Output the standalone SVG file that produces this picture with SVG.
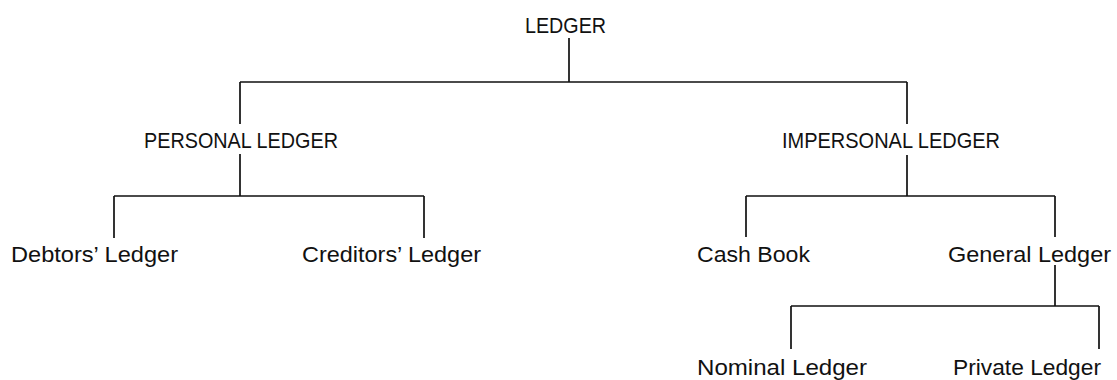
<svg xmlns="http://www.w3.org/2000/svg" width="1117" height="380" viewBox="0 0 1117 380">
<style>
text { font-family: "Liberation Sans", Arial, sans-serif; font-size: 22px; fill: #111; }
.c { stroke: #111; stroke-width: 1.7; fill: none; }
</style>
<rect width="1117" height="380" fill="#fff"/>
<g id="connectors">
<path class="c" d="M569,38 V82 M240,82 H907 M240,82 V124 M907,82 V124"/>
<path class="c" d="M240,154 V196 M114,196 H424 M114,196 V238 M424,196 V238"/>
<path class="c" d="M907,155 V196 M746,196 H1055 M746,196 V237 M1055,196 V237"/>
<path class="c" d="M1055,265 V306 M791,306 H1099 M791,306 V349 M1099,306 V349"/>
</g>
<g id="ledger"><text x="525" y="33" textLength="81" lengthAdjust="spacingAndGlyphs">LEDGER</text></g>
<g id="personal-ledger"><text x="144" y="148" textLength="194" lengthAdjust="spacingAndGlyphs">PERSONAL LEDGER</text></g>
<g id="impersonal-ledger"><text x="782" y="148" textLength="218" lengthAdjust="spacingAndGlyphs">IMPERSONAL LEDGER</text></g>
<g id="debtors-ledger"><text x="11" y="262" textLength="167" lengthAdjust="spacingAndGlyphs">Debtors’ Ledger</text></g>
<g id="creditors-ledger"><text x="302" y="262" textLength="179" lengthAdjust="spacingAndGlyphs">Creditors’ Ledger</text></g>
<g id="cash-book"><text x="697" y="262" textLength="113" lengthAdjust="spacingAndGlyphs">Cash Book</text></g>
<g id="general-ledger"><text x="948" y="262" textLength="163" lengthAdjust="spacingAndGlyphs">General Ledger</text></g>
<g id="nominal-ledger"><text x="697" y="375" textLength="170" lengthAdjust="spacingAndGlyphs">Nominal Ledger</text></g>
<g id="private-ledger"><text x="953" y="375" textLength="148" lengthAdjust="spacingAndGlyphs">Private Ledger</text></g>
</svg>
